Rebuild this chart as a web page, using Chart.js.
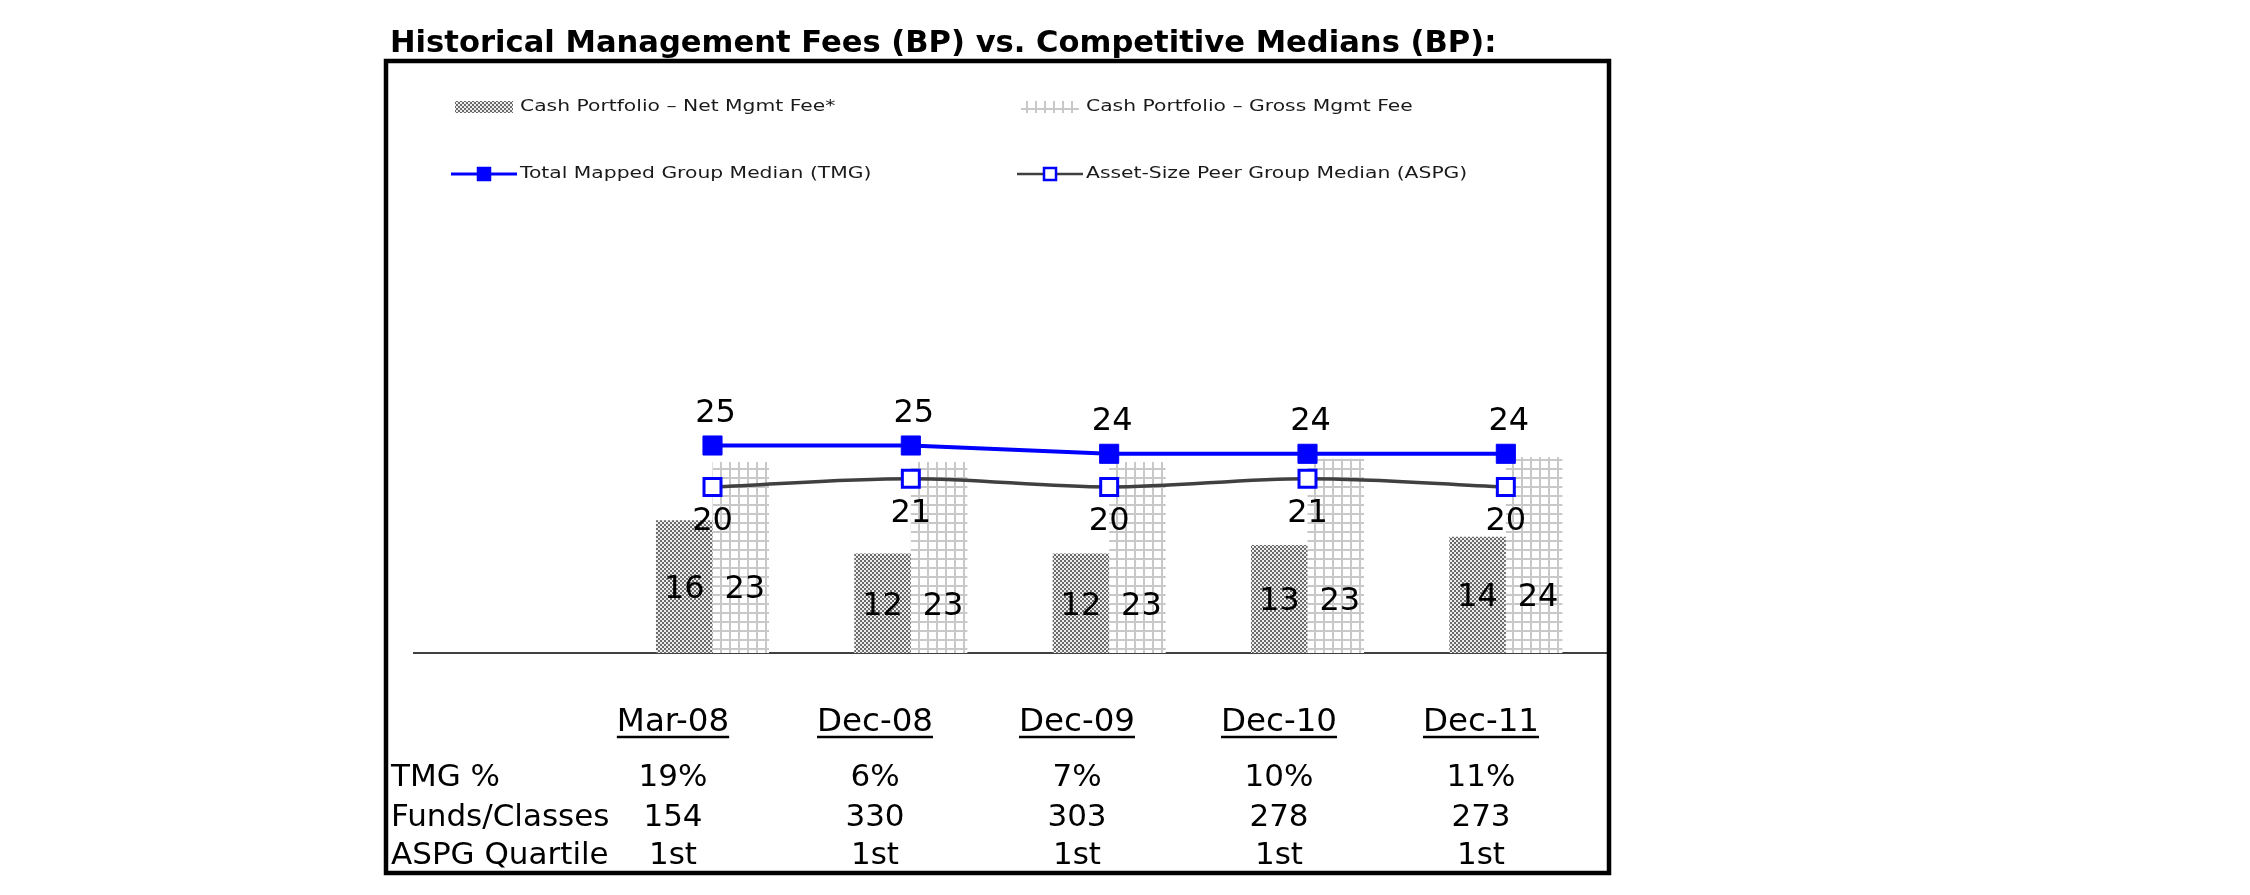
<!DOCTYPE html>
<html><head><meta charset="utf-8">
<script src="https://cdn.jsdelivr.net/npm/chart.js@4.4.1/dist/chart.umd.min.js"></script>
<style>html,body{margin:0;padding:0;background:#fff;}canvas{display:block;}</style>
</head><body>
<canvas id="c" width="2250" height="895"></canvas>
<script>
// ---- data ----
const titleText = 'Historical Management Fees (BP) vs. Competitive Medians (BP):';
const categories = ['Mar-08', 'Dec-08', 'Dec-09', 'Dec-10', 'Dec-11'];
const netFee = [16, 12, 12, 13, 14];
const grossFee = [23, 23, 23, 23.4, 23.6];
const tmgMedian = [25, 25, 24, 24, 24];
const aspgMedian = [20, 21, 20, 21, 20];
const rowLabels = ['TMG %', 'Funds/Classes', 'ASPG Quartile'];
const tmgPct = ['19%', '6%', '7%', '10%', '11%'];
const fundsClasses = ['154', '330', '303', '278', '273'];
const aspgQuartile = ['1st', '1st', '1st', '1st', '1st'];
const seriesNames = ['Cash Portfolio \u2013 Net Mgmt Fee*', 'Cash Portfolio \u2013 Gross Mgmt Fee',
  'Total Mapped Group Median (TMG)', 'Asset-Size Peer Group Median (ASPG)'];

// ---- patterns ----
function stipple() {
  const c = document.createElement('canvas'); c.width = 4; c.height = 4;
  const x = c.getContext('2d');
  x.fillStyle = '#eeeeee'; x.fillRect(0, 0, 4, 4);
  x.fillStyle = '#6a6a6a'; x.fillRect(0, 0, 2, 2); x.fillRect(2, 2, 2, 2);
  return x.createPattern(c, 'repeat');
}
function gridPat() {
  const c = document.createElement('canvas'); c.width = 9; c.height = 9;
  const x = c.getContext('2d');
  x.fillStyle = '#ffffff'; x.fillRect(0, 0, 9, 9);
  x.fillStyle = '#c8c8c8'; x.fillRect(0, 0, 9, 2); x.fillRect(0, 0, 2, 9);
  return x.createPattern(c, 'repeat');
}
const netPattern = stipple();
const grossPattern = gridPat();

const FONT = '"DejaVu Sans", Verdana, sans-serif';
const labels = ['', ...categories];
const pad = v => [null, ...v];

function stretchedText(ctx, text, x, y, sx) {
  ctx.save(); ctx.translate(x, y); ctx.scale(sx, 1); ctx.fillText(text, 0, 0); ctx.restore();
}

const decor = {
  id: 'decor',
  beforeDatasetsDraw(chart) {
    const { ctx, chartArea, scales } = chart;
    const y0 = scales.y.getPixelForValue(0);
    ctx.save();
    ctx.strokeStyle = '#000'; ctx.lineWidth = 1.5;
    ctx.beginPath(); ctx.moveTo(chartArea.left - 2, y0); ctx.lineTo(chartArea.right + 2, y0); ctx.stroke();
    ctx.restore();
  },
  afterDatasetsDraw(chart) {
    const { ctx } = chart;
    const ds = chart.data.datasets;
    ctx.save();
    // data labels
    ctx.fillStyle = '#000'; ctx.font = '32px ' + FONT;
    ctx.textAlign = 'center'; ctx.textBaseline = 'middle';
    const tmg = chart.getDatasetMeta(0).data, aspg = chart.getDatasetMeta(1).data;
    const net = chart.getDatasetMeta(2).data, gross = chart.getDatasetMeta(3).data;
    for (let i = 0; i < labels.length; i++) {
      if (ds[0].data[i] == null) continue;
      ctx.fillText(String(Math.round(ds[0].data[i])), tmg[i].x + 3, tmg[i].y - 32);
      ctx.fillText(String(Math.round(ds[1].data[i])), aspg[i].x, aspg[i].y + 35);
      const netMid = (net[i].y + net[i].base) / 2 + 3;
      ctx.fillText(String(Math.round(ds[2].data[i])), net[i].x, netMid);
      ctx.fillText(String(Math.round(ds[3].data[i])), gross[i].x + 4, netMid);
    }
    // title
    ctx.textAlign = 'left'; ctx.textBaseline = 'alphabetic';
    ctx.font = 'bold 30.6px ' + FONT;
    ctx.fillText(titleText, 390, 52);
    // frame
    ctx.strokeStyle = '#000'; ctx.lineWidth = 4.5;
    ctx.strokeRect(386, 61, 1223, 812);
    // legend
    const cols = [455, 1021], rows = [107, 174];
    const items = [
      { ds: ds[2], x: cols[0], y: rows[0], kind: 'bar' },
      { ds: ds[3], x: cols[1], y: rows[0], kind: 'bar' },
      { ds: ds[0], x: cols[0], y: rows[1], kind: 'line' },
      { ds: ds[1], x: cols[1], y: rows[1], kind: 'line' }
    ];
    items.forEach(it => {
      if (it.kind === 'bar') {
        ctx.fillStyle = it.ds.backgroundColor;
        ctx.fillRect(it.x, it.y - 6, 58, 12);
      } else {
        ctx.strokeStyle = it.ds.borderColor; ctx.lineWidth = it.ds.borderWidth - 0.8;
        ctx.beginPath(); ctx.moveTo(it.x - 4, it.y); ctx.lineTo(it.x + 62, it.y); ctx.stroke();
        ctx.fillStyle = it.ds.pointBackgroundColor;
        ctx.fillRect(it.x + 23, it.y - 6, 12, 12);
        ctx.strokeStyle = it.ds.pointBorderColor; ctx.lineWidth = 2.5;
        ctx.strokeRect(it.x + 23, it.y - 6, 12, 12);
      }
      ctx.fillStyle = '#1a1a1a'; ctx.font = '16.5px ' + FONT;
      ctx.textAlign = 'left'; ctx.textBaseline = 'middle';
      stretchedText(ctx, it.ds.label, it.x + 65, it.y, 1.23);
    });
    // table
    const colX = i => 673 + i * 202;
    ctx.fillStyle = '#000'; ctx.strokeStyle = '#000';
    ctx.font = '32.5px ' + FONT; ctx.textAlign = 'center'; ctx.textBaseline = 'alphabetic';
    categories.forEach((c, i) => {
      const x = colX(i), w = ctx.measureText(c).width;
      ctx.fillText(c, x, 731);
      ctx.lineWidth = 2.5;
      ctx.beginPath(); ctx.moveTo(x - w / 2, 737); ctx.lineTo(x + w / 2, 737); ctx.stroke();
    });
    ctx.font = '31px ' + FONT;
    const rowsData = [tmgPct, fundsClasses, aspgQuartile];
    const baselines = [786, 826, 864];
    rowLabels.forEach((lab, r) => {
      ctx.textAlign = 'left'; ctx.fillText(lab, 391, baselines[r]);
      ctx.textAlign = 'center';
      rowsData[r].forEach((v, i) => ctx.fillText(v, colX(i), baselines[r]));
    });
    ctx.restore();
  }
};

new Chart(document.getElementById('c'), {
  type: 'bar',
  data: {
    labels,
    datasets: [
      { type: 'line', label: seriesNames[2], data: pad(tmgMedian), borderColor: '#0000ff', borderWidth: 4,
        pointStyle: 'rect', pointRadius: 13.5, pointBackgroundColor: '#0000ff', pointBorderColor: '#0000ff',
        pointBorderWidth: 1, tension: 0, order: 0 },
      { type: 'line', label: seriesNames[3], data: pad(aspgMedian), borderColor: '#404040', borderWidth: 3.5,
        pointStyle: 'rect', pointRadius: 12, pointBackgroundColor: '#ffffff', pointBorderColor: '#0000ff',
        pointBorderWidth: 3, tension: 0.35, order: 1 },
      { type: 'bar', label: seriesNames[0], data: pad(netFee), backgroundColor: netPattern,
        barPercentage: 1, categoryPercentage: 0.57, order: 2 },
      { type: 'bar', label: seriesNames[1], data: pad(grossFee), backgroundColor: grossPattern,
        barPercentage: 1, categoryPercentage: 0.57, order: 2 }
    ]
  },
  options: {
    responsive: false, animation: false, devicePixelRatio: 1,
    layout: { padding: { left: 415, right: 645, top: 404, bottom: 242 } },
    plugins: { legend: { display: false }, tooltip: { enabled: false }, title: { display: false } },
    scales: { x: { display: false }, y: { display: false, min: 0, max: 30 } }
  },
  plugins: [decor]
});
</script>
</body></html>
